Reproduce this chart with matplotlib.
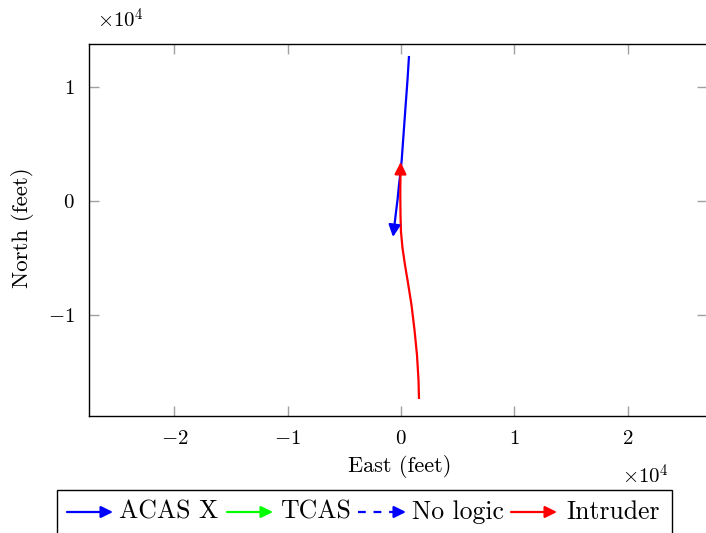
import matplotlib
matplotlib.use("Agg")
import matplotlib.pyplot as plt
from matplotlib.patches import FancyArrowPatch, Rectangle
from matplotlib.lines import Line2D
from matplotlib.ticker import FixedLocator, FuncFormatter

plt.rcParams["font.family"] = "cmr10"
plt.rcParams["mathtext.fontset"] = "cm"
plt.rcParams["axes.formatter.use_mathtext"] = True

# own aircraft track (ACAS X resolution), feet
acas_east = [706, 574, 397, 221, 62, -44, -177, -309, -441, -574, -706]
acas_north = [12775, 10660, 8281, 5815, 3612, 2555, 1410, 88, -969, -2114, -3172]

# intruder track, feet
intr_east = [1589, 1545, 1412, 1192, 927, 618, 353, 132, 0, -44, -62, -53, -26]
intr_north = [-17445, -15770, -13570, -11365, -9162, -7224, -5638, -4141,
              -2731, -1233, 529, 1850, 3436]

legend_names = ["ACAS X", "TCAS", "No logic", "Intruder"]
legend_colors = ["#0000ff", "#00ff00", "#0000ff", "#ff0000"]
legend_styles = ["-", "-", "--", "-"]

xticks = [-20000, -10000, 0, 10000, 20000]
yticks = [-10000, 0, 10000]

W, H = 706, 533
fig = plt.figure(figsize=(W / 100, H / 100), dpi=100)

def fx(px):
    return px / W

def fy(py):
    return 1 - py / H

ARROW = "-|>,head_length=0.65,head_width=0.32"

# axes box in pixels: left 89, right 707, top 44, bottom 416
ax = fig.add_axes([fx(89), fy(416), fx(707) - fx(89), fy(44) - fy(416)])
ax.set_xlim(-27540, 27010)
ax.set_ylim(-18940, 13830)

def track(e, n, color):
    ax.plot(e[:-1], n[:-1], color=color, lw=1.6, solid_capstyle="butt")
    ax.annotate("", xy=(e[-1], n[-1]), xytext=(e[-2], n[-2]),
                arrowprops=dict(arrowstyle=ARROW, color=color, lw=1.6,
                                shrinkA=0, shrinkB=0, mutation_scale=11))

track(acas_east, acas_north, "#0000ff")
track(intr_east, intr_north, "#ff0000")

ax.xaxis.set_major_locator(FixedLocator(xticks))
ax.yaxis.set_major_locator(FixedLocator(yticks))
fmt = FuncFormatter(lambda v, p: "$%g$" % (v / 1e4))
ax.xaxis.set_major_formatter(fmt)
ax.yaxis.set_major_formatter(fmt)
ax.tick_params(direction="in", length=7, width=1.0, color="#a0a0a0",
               labelcolor="black", labelsize=15, top=True, right=True, pad=10)
for s in ax.spines.values():
    s.set_linewidth(1.0)
    s.set_color("black")

fig.text(fx(400), fy(467), "East (feet)", ha="center", va="center", fontsize=16)
fig.text(fx(22), fy(228), "North (feet)", ha="center", va="center",
         rotation=90, fontsize=16.5)
fig.text(fx(120), fy(20), r"$\times10^4$", ha="center", va="center", fontsize=15)
fig.text(fx(645), fy(476), r"$\times10^4$", ha="center", va="center", fontsize=15)

# legend box drawn in figure pixels
fig.add_artist(Rectangle((fx(57), fy(545)), fx(672) - fx(57), fy(490) - fy(545),
                         transform=fig.transFigure, fill=False, lw=1.0,
                         edgecolor="black"))
handle_x = [(67, 113), (227, 273), (358, 406), (511, 557)]
text_x = [119, 280, 412, 566]
ly = 512
for (x0, x1), tx, name, c, ls in zip(handle_x, text_x, legend_names,
                                     legend_colors, legend_styles):
    if ls == "--":
        fig.add_artist(Line2D([fx(x0), fx(x1 - 6)], [fy(ly), fy(ly)],
                              transform=fig.transFigure, color=c, lw=1.6,
                              ls=(0, (3.5, 3.5))))
        start = x1 - 9
    else:
        start = x0
    fig.add_artist(FancyArrowPatch((fx(start), fy(ly)), (fx(x1), fy(ly)),
                                   transform=fig.transFigure, arrowstyle=ARROW,
                                   mutation_scale=11, color=c, lw=1.6,
                                   shrinkA=0, shrinkB=0))
    fig.text(fx(tx), fy(ly), name, ha="left", va="center", fontsize=18.5)

fig.savefig("out.png", dpi=100)
